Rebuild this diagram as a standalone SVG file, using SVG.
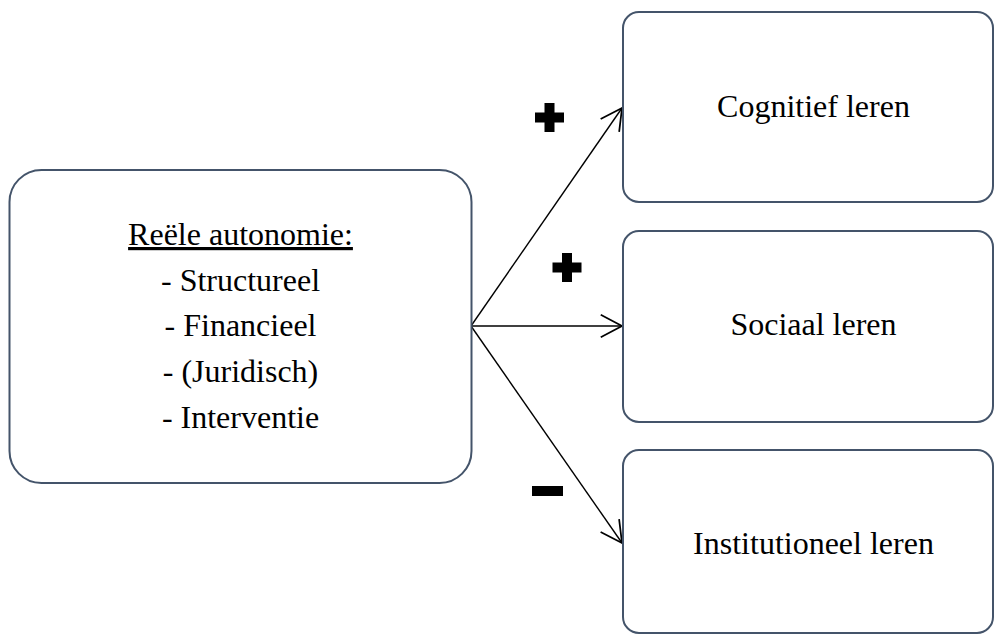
<svg xmlns="http://www.w3.org/2000/svg" width="995" height="636" viewBox="0 0 995 636">
<style>
.box{fill:#fff;stroke:#44546A;stroke-width:2}
.t{font-family:"Liberation Serif","Times New Roman",serif;font-size:32px;fill:#000;text-anchor:middle}
.conn{stroke:#000;stroke-width:1.4;fill:none}
</style>
<defs>
<marker id="arr" markerUnits="userSpaceOnUse" markerWidth="30" markerHeight="30" viewBox="-20 -12 24 24" refX="0" refY="0" orient="auto">
<path d="M-17,-9 L0,0 L-17,9" fill="none" stroke="#000" stroke-width="1.4"/>
</marker>
</defs>
<rect width="995" height="636" fill="#fff"/>
<g id="connectors">
<line class="conn" x1="471" y1="326" x2="622" y2="108" marker-end="url(#arr)"/>
<line class="conn" x1="471" y1="326" x2="622" y2="326" marker-end="url(#arr)"/>
<line class="conn" x1="471" y1="326" x2="622" y2="543" marker-end="url(#arr)"/>
</g>
<g id="source">
<rect class="box" x="9.5" y="170" width="462" height="313" rx="32"/>
<text class="t" x="240.5" y="245" text-decoration="underline">Reële autonomie:</text>
<text class="t" x="240.5" y="291">- Structureel</text>
<text class="t" x="240.5" y="336">- Financieel</text>
<text class="t" x="240.5" y="382">- (Juridisch)</text>
<text class="t" x="240.5" y="428">- Interventie</text>
</g>
<g id="cognitief">
<rect class="box" x="623" y="12" width="370" height="190" rx="16"/>
<text class="t" x="813.5" y="117">Cognitief leren</text>
</g>
<g id="sociaal">
<rect class="box" x="623" y="231" width="370" height="191" rx="16"/>
<text class="t" x="813.5" y="335">Sociaal leren</text>
</g>
<g id="institutioneel">
<rect class="box" x="623" y="450" width="370" height="183" rx="16"/>
<text class="t" x="813.5" y="554">Institutioneel leren</text>
</g>
<g id="signs" fill="#000">
<path d="M544.5,103 h10 v9.5 h9.5 v10 h-9.5 v9.5 h-10 v-9.5 h-9.5 v-10 h9.5 z"/>
<path d="M562,253 h10 v9.5 h9.5 v10 h-9.5 v9.5 h-10 v-9.5 h-9.5 v-10 h9.5 z"/>
<rect x="532" y="486" width="31" height="10"/>
</g>
</svg>
